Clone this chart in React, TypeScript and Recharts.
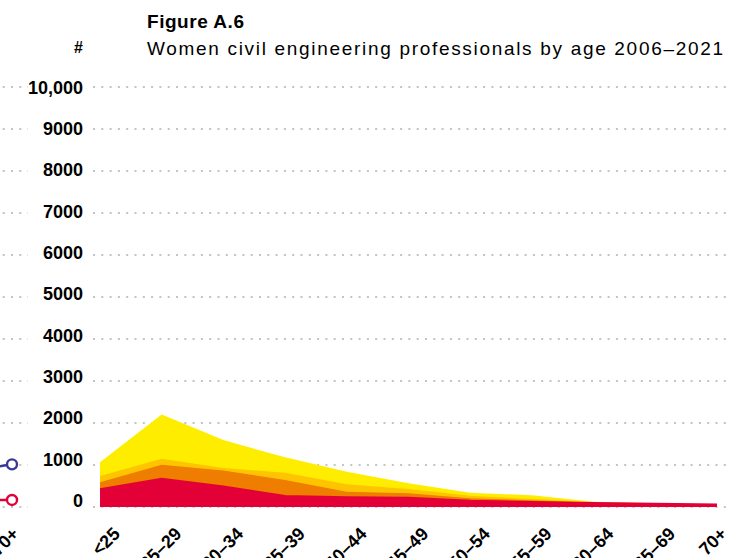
import { AreaChart, Area, XAxis, YAxis, CartesianGrid, LineChart, Line } from 'recharts';

const FONT = '"Liberation Sans", Arial, Helvetica, sans-serif';

// age groups on the x axis
const ageGroups = ['<25', '25–29', '30–34', '35–39', '40–44', '45–49', '50–54', '55–59', '60–64', '65–69', '70+'];

// number of women civil engineering professionals
const women2006 = [420, 670, 490, 262, 231, 221, 150, 119, 95, 78, 60];
const women2011 = [588, 1006, 868, 642, 364, 326, 207, 159, 102, 80, 62];
const women2016 = [737, 1149, 928, 816, 540, 428, 269, 190, 112, 84, 64];
const women2021 = [1063, 2205, 1594, 1182, 840, 564, 340, 278, 126, 88, 66];

const yTicks = [0, 1000, 2000, 3000, 4000, 5000, 6000, 7000, 8000, 9000, 10000];

// fragment of the neighbouring panel that shows at the left edge
const neighbourAges = ['65–69', '70+'];
const neighbourBlue = [690, 1016];
const neighbourRed = [160, 167];

const COLORS = {
  y2021: '#FFED00',
  y2016: '#FFC400',
  y2011: '#EE7D00',
  y2006: '#E30037',
  blue: '#3B3996',
  grid: '#c4c4c4',
};

const data = ageGroups.map((age, i) => ({
  age,
  w2006: women2006[i],
  w2011: women2011[i],
  w2016: women2016[i],
  w2021: women2021[i],
}));

const neighbourData = neighbourAges.map((age, i) => ({
  age,
  blue: neighbourBlue[i],
  red: neighbourRed[i],
}));

const fmt = (v: number) => (v >= 10000 ? v.toLocaleString('en-US') : String(v));

function ValueTick(props: any) {
  const { y, payload } = props;
  // labels in the original drift a little above the lower gridlines
  const dy = 6.5 - 6.5 * (1 - payload.value / 10000);
  return (
    <text x={83} y={y} dy={dy} textAnchor="end" fontFamily={FONT} fontWeight={700} fontSize={18} fill="#000">
      {fmt(payload.value)}
    </text>
  );
}

function AgeTick(props: any) {
  const { x, payload, dx = 21 } = props;
  const tx = Math.min(x + dx, 728);
  const ty = 535;
  return (
    <text
      x={tx}
      y={ty}
      transform={`rotate(-45 ${tx} ${ty})`}
      textAnchor="end"
      fontFamily={FONT}
      fontWeight={700}
      fontSize={18}
      fill="#000"
    >
      {payload.value}
    </text>
  );
}

function RingDot(props: any) {
  const { cx, cy, index, stroke } = props;
  if (index !== neighbourAges.length - 1) return <g key={index} />;
  return <circle key={index} cx={cx} cy={cy} r={5} fill="#fff" stroke={stroke} strokeWidth={2.4} />;
}

export default function App() {
  return (
    <div style={{ position: 'absolute', left: 0, top: 0, width: 730, height: 558, overflow: 'hidden', background: '#fff', fontFamily: FONT }}>
      {/* neighbouring panel, cut off by the frame */}
      <div style={{ position: 'absolute', left: -72, top: 0 }}>
        <LineChart width={100} height={558} data={neighbourData} margin={{ top: 87, right: 0, bottom: 0, left: 0 }}>
          <CartesianGrid vertical={false} stroke={COLORS.grid} strokeWidth={2} strokeDasharray="2 6.3" />
          <XAxis dataKey="age" height={51} padding={{ left: 0, right: 16 }} axisLine={false} tickLine={false} interval={0} tick={<AgeTick dx={8} />} />
          <YAxis hide domain={[0, 10000]} ticks={yTicks} />
          <Line type="linear" dataKey="blue" stroke={COLORS.blue} strokeWidth={2.6} dot={<RingDot />} isAnimationActive={false} />
          <Line type="linear" dataKey="red" stroke={COLORS.y2006} strokeWidth={2.6} dot={<RingDot />} isAnimationActive={false} />
        </LineChart>
      </div>

      <div style={{ position: 'absolute', left: 0, top: 0 }}>
        <AreaChart width={730} height={558} data={data} margin={{ top: 87, right: 0, bottom: 0, left: 0 }}>
          <CartesianGrid vertical={false} stroke={COLORS.grid} strokeWidth={2} strokeDasharray="2 6.3" />
          <XAxis dataKey="age" height={51} padding={{ left: 7, right: 13 }} axisLine={false} tickLine={false} interval={0} tick={<AgeTick />} />
          <YAxis width={93} domain={[0, 10000]} ticks={yTicks} axisLine={false} tickLine={false} tick={<ValueTick />} />
          <Area type="linear" dataKey="w2021" name="2021" fill={COLORS.y2021} fillOpacity={1} stroke="none" isAnimationActive={false} />
          <Area type="linear" dataKey="w2016" name="2016" fill={COLORS.y2016} fillOpacity={1} stroke="none" isAnimationActive={false} />
          <Area type="linear" dataKey="w2011" name="2011" fill={COLORS.y2011} fillOpacity={1} stroke="none" isAnimationActive={false} />
          <Area type="linear" dataKey="w2006" name="2006" fill={COLORS.y2006} fillOpacity={1} stroke={COLORS.y2006} strokeWidth={2} isAnimationActive={false} />
        </AreaChart>
      </div>

      <svg width={730} height={70} style={{ position: 'absolute', left: 0, top: 0 }}>
        <text x={147} y={28} fontFamily={FONT} fontWeight={700} fontSize={19} textLength={97} lengthAdjust="spacing" fill="#000">
          Figure A.6
        </text>
        <text x={83} y={53} textAnchor="end" fontFamily={FONT} fontWeight={700} fontSize={16} fill="#000">
          #
        </text>
        <text x={147} y={55} fontFamily={FONT} fontSize={19} textLength={576} lengthAdjust="spacing" fill="#000">
          Women civil engineering professionals by age 2006–2021
        </text>
      </svg>
    </div>
  );
}
